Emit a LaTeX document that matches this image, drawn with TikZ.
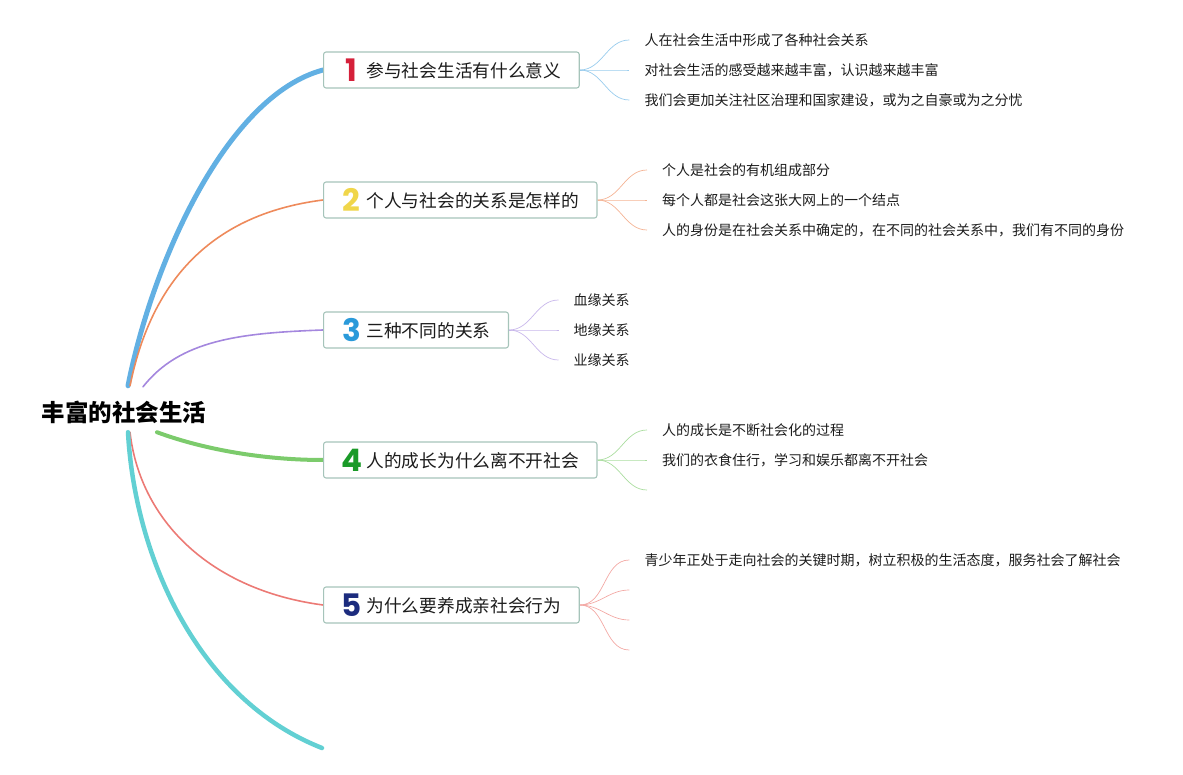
\documentclass[tikz,border=0pt]{standalone}
\usepackage{fontspec}
\setmainfont{Noto Sans CJK SC}
\newfontfamily\digitfont{Poppins}
\usetikzlibrary{positioning}
\usetikzlibrary{calc}
\definecolor{box colour}{HTML}{A6C4BA}
\definecolor{text colour}{HTML}{1C1C1C}
\definecolor{blue colour}{HTML}{62B0E3}
\definecolor{orange colour}{HTML}{EE8A5B}
\definecolor{purple colour}{HTML}{A487DE}
\definecolor{green colour}{HTML}{7CCB6C}
\definecolor{red colour}{HTML}{EC7A75}
\definecolor{cyan colour}{HTML}{62D0D3}
\colorlet{blue twig}{blue colour!65}
\colorlet{orange twig}{orange colour!65}
\colorlet{purple twig}{purple colour!60}
\colorlet{green twig}{green colour!65}
\colorlet{red twig}{red colour!65}
\definecolor{one colour}{HTML}{D5203A}
\definecolor{two colour}{HTML}{F0D64A}
\definecolor{three colour}{HTML}{2A9ADA}
\definecolor{four colour}{HTML}{1A9A28}
\definecolor{five colour}{HTML}{1C2C7E}
\pgfdeclarelayer{background}
\pgfsetlayers{background,main}
\tikzset{
    % Lines out of the central topic, thick or thin
    branch/.style={draw, line width=#1, line cap=round},
    % Fine lines out to the notes
    twig/.style={draw, line width=0.7pt},
%
    root/.style={
        font=\bfseries\fontsize{23.5}{24}\selectfont, text=black,
        inner sep=0, minimum height=46pt},
    topic/.style={
        draw=box colour, line width=1.1pt, rounded corners=2.5pt, fill=white,
        anchor=west, minimum height=36pt, inner xsep=18pt, inner ysep=2pt,
        text=text colour, font=\fontsize{17.7}{18}\selectfont},
    leaf/.style={
        inner xsep=15pt, inner ysep=0, text=text colour,
        font=\fontsize{14}{14}\selectfont},
}
% Coloured number in front of each topic
\newcommand{\topicnum}[2]{%
    \makebox[20pt]{\raisebox{-4pt}{%
        \digitfont\bfseries\fontsize{31}{31}\selectfont\color{#1}#2}}%
    \hspace{5pt}}

\begin{document}
\begin{tikzpicture}[x=1pt, y=-1pt]
    \useasboundingbox (0,0) rectangle (1183,775);

    \node [root] (root) at (124,412) {丰富的社会生活};

    \node [topic] (one) at (323,70) {\topicnum{one colour}{1}参与社会生活有什么意义};
    \node [topic] (two) at (323,200) {\topicnum{two colour}{2}个人与社会的关系是怎样的};
    \node [topic] (three) at (323,330) {\topicnum{three colour}{3}三种不同的关系};
    \node [topic] (four) at (323,460) {\topicnum{four colour}{4}人的成长为什么离不开社会};
    \node [topic] (five) at (323,605) {\topicnum{five colour}{5}为什么要养成亲社会行为};
    \coordinate (six) at (322,748);

    \node [leaf, right=49.5pt of one, yshift=30pt] (one a) {人在社会生活中形成了各种社会关系};
    \node [leaf, right=49.5pt of one] (one b) {对社会生活的感受越来越丰富，认识越来越丰富};
    \node [leaf, right=49.5pt of one, yshift=-30pt] (one c) {我们会更加关注社区治理和国家建设，或为之自豪或为之分忧};

    \node [leaf, right=49.5pt of two, yshift=30pt] (two a) {个人是社会的有机组成部分};
    \node [leaf, right=49.5pt of two] (two b) {每个人都是社会这张大网上的一个结点};
    \node [leaf, right=49.5pt of two, yshift=-30pt] (two c) {人的身份是在社会关系中确定的，在不同的社会关系中，我们有不同的身份};

    \node [leaf, right=49.5pt of three, yshift=30pt] (three a) {血缘关系};
    \node [leaf, right=49.5pt of three] (three b) {地缘关系};
    \node [leaf, right=49.5pt of three, yshift=-30pt] (three c) {业缘关系};

    \node [leaf, right=49.5pt of four, yshift=30pt] (four a) {人的成长是不断社会化的过程};
    \node [leaf, right=49.5pt of four] (four b) {我们的衣食住行，学习和娱乐都离不开社会};
    \coordinate [right=49.5pt of four, yshift=-30pt] (four c);

    \node [leaf, right=49.5pt of five, yshift=45pt] (five a) {青少年正处于走向社会的关键时期，树立积极的生活态度，服务社会了解社会};
    \coordinate [right=49.5pt of five, yshift=15pt] (five b);
    \coordinate [right=49.5pt of five, yshift=-15pt] (five c);
    \coordinate [right=49.5pt of five, yshift=-45pt] (five d);

    \begin{pgfonlayer}{background}
        % Branches out of the central topic
        \path [branch=5pt, blue colour] ([xshift=4pt, yshift=3pt]root.north)
            .. controls +(24,-122) and +(-97,26) .. (one.west);
        \path [branch=1.6pt, orange colour] ([xshift=6pt, yshift=3pt]root.north)
            .. controls +(20,-98) and +(-118,15) .. (two.west);
        \path [branch=1.6pt, purple colour] ([xshift=19pt, yshift=2pt]root.north)
            .. controls +(37,-47) and +(-83,3) .. (three.west);
        \path [branch=4pt, green colour] ([xshift=33pt, yshift=3pt]root.south)
            .. controls +(43,16) and +(-63,0) .. (four.west);
        \path [branch=1.6pt, red colour] ([xshift=6pt, yshift=3pt]root.south)
            .. controls +(10,88) and +(-113,-15) .. (five.west);
        \path [branch=4.5pt, cyan colour] ([xshift=4pt, yshift=3pt]root.south)
            .. controls +(7,128) and +(-122,-48) .. (six);

        % Out to the notes
        \foreach \n in {one a, one b, one c}
            \path [twig, blue twig] (one.east) to [out=0, in=180] (\n.west);
        \foreach \n in {two a, two b, two c}
            \path [twig, orange twig] (two.east) to [out=0, in=180] (\n.west);
        \foreach \n in {three a, three b, three c}
            \path [twig, purple twig] (three.east) to [out=0, in=180] (\n.west);
        \foreach \n in {four a, four b, four c}
            \path [twig, green twig] (four.east) to [out=0, in=180] (\n);
        \foreach \n in {five a, five b, five c, five d}
            \path [twig, red twig] (five.east) to [out=0, in=180] (\n);
    \end{pgfonlayer}
\end{tikzpicture}
\end{document}
